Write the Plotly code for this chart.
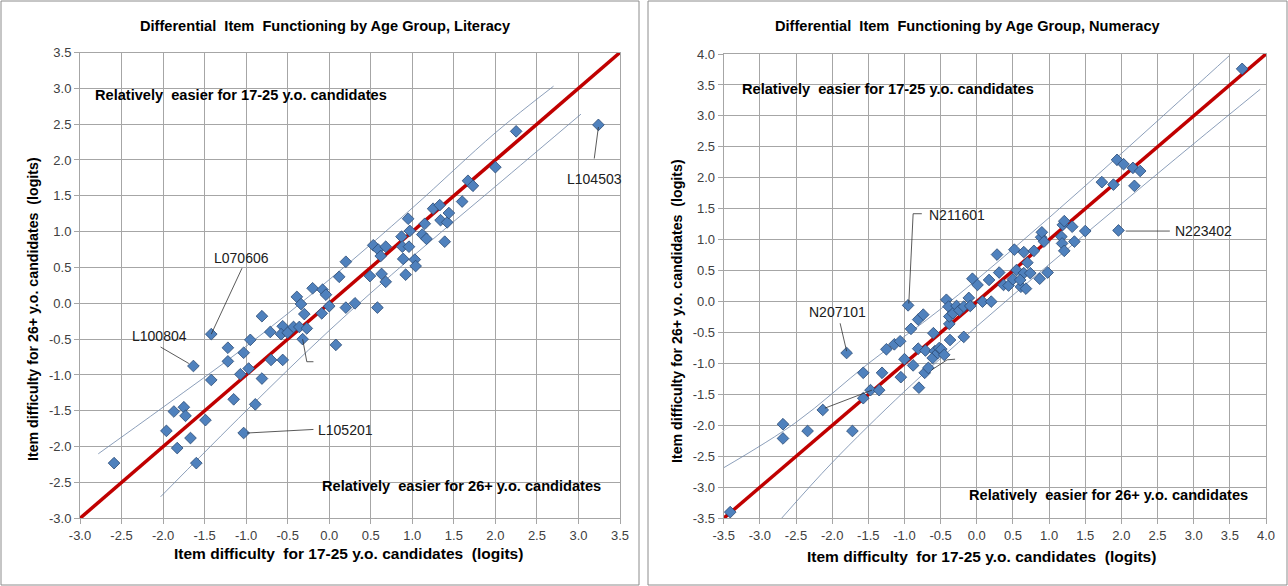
import plotly.graph_objects as go

# ---------------- Literacy: item difficulties (logits) ----------------
lit_young = [-2.59, -1.96, -1.87, -1.83, -1.75, -1.73, -1.67, -1.60, -1.49, -1.635,
             -1.42, -1.42, -1.22, -1.22, -1.15, -1.07, -1.03, -1.03, -0.97, -0.95,
             -0.89, -0.81, -0.81, -0.71, -0.70, -0.56, -0.56, -0.58, -0.50, -0.43,
             -0.39, -0.36, -0.34, -0.32, -0.30, -0.27, -0.20, -0.09, -0.08, -0.04,
             0.00, 0.08, 0.12, 0.20, 0.20, 0.31, 0.49, 0.53, 0.59, 0.62,
             0.68, 0.63, 0.68, 0.58, 0.87, 0.88, 0.96, 0.89, 1.03, 1.04,
             0.92, 0.95, 0.97, 1.12, 1.15, 1.17, 1.25, 1.33, 1.34, 1.42,
             1.44, 1.39, 1.60, 1.67, 1.73, 2.00, 2.25, 3.24]
lit_older = [-2.23, -1.78, -1.51, -2.02, -1.45, -1.57, -1.88, -2.23, -1.63, -0.875,
             -0.43, -1.07, -0.62, -0.81, -1.34, -0.99, -0.69, -1.81, -0.91, -0.51,
             -1.41, -0.18, -1.05, -0.40, -0.79, -0.32, -0.79, -0.43, -0.41, -0.33,
             0.09, -0.33, -0.01, -0.50, -0.15, -0.35, 0.21, -0.14, 0.19, 0.12,
             -0.04, -0.58, 0.37, 0.58, -0.06, 0.00, 0.38, 0.81, 0.75, 0.66,
             0.79, 0.41, 0.30, -0.06, 0.93, 0.79, 0.79, 0.62, 0.61, 0.52,
             0.40, 1.18, 1.01, 0.96, 1.11, 0.90, 1.32, 1.37, 1.16, 1.13,
             1.26, 0.86, 1.42, 1.71, 1.64, 1.90, 2.40, 2.49]

# 95% control lines around the identity line
lit_upper_x = [-2.78, -2.0, -1.0, 0.0, 1.0, 2.0, 2.70]
lit_upper_y = [-2.10, -1.45, -0.60, 0.33, 1.33, 2.38, 3.03]
lit_lower_x = [-2.03, -1.0, 0.0, 1.0, 2.0, 3.03]
lit_lower_y = [-2.70, -1.50, -0.38, 0.65, 1.63, 2.64]

# ---------------- Numeracy: item difficulties (logits) ----------------
num_young = [-3.41, -2.68, -2.68, -2.34, -2.13, -1.80, -1.72, -1.57, -1.57, -1.47,
             -1.35, -1.31, -1.25, -1.14, -1.06, -1.05, -1.00, -0.95, -0.91, -0.88,
             -0.81, -0.80, -0.81, -0.74, -0.72, -0.71, -0.67, -0.60, -0.58, -0.61,
             -0.54, -0.52, -0.49, -0.45, -0.42, -0.39, -0.38, -0.38, -0.37, -0.33,
             -0.28, -0.24, -0.18, -0.18, -0.11, -0.09, -0.06, 0.01, 0.08, 0.17,
             0.20, 0.28, 0.37, 0.44, 0.31, 0.50, 0.52, 0.55, 0.61, 0.65,
             0.65, 0.68, 0.70, 0.74, 0.79, 0.87, 0.89, 0.90, 0.93, 0.98,
             1.17, 1.18, 1.19, 1.21, 1.21, 1.32, 1.35, 1.50, 1.73, 1.89,
             1.94, 1.96, 2.03, 2.16, 2.18, 2.26, 3.67, 0.60]
num_older = [-3.40, -1.98, -2.21, -2.09, -1.75, -0.83, -2.09, -1.56, -1.15, -1.43,
             -1.43, -1.15, -0.77, -0.69, -0.64, -1.22, -0.93, -0.06, -0.44, -1.03,
             -0.29, -1.39, -0.76, -0.21, -1.15, -0.79, -1.07, -0.51, -0.80, -0.91,
             -0.83, -0.75, -0.77, -0.86, 0.03, -0.08, -0.36, -0.24, -0.62, -0.19,
             -0.07, -0.14, -0.08, -0.57, 0.06, -0.07, 0.37, 0.27, 0.00, 0.35,
             0.00, 0.76, 0.27, 0.26, 0.47, 0.36, 0.84, 0.51, 0.24, 0.80,
             0.46, 0.21, 0.63, 0.46, 0.82, 0.37, 1.04, 1.12, 0.97, 0.47,
             1.05, 0.94, 1.24, 1.30, 0.82, 1.21, 0.97, 1.14, 1.93, 1.89,
             2.29, 1.15, 2.22, 2.16, 1.87, 2.11, 3.76, 0.35]

num_upper_x = [-3.51, -2.5, -1.5, -0.5, 0.5, 1.5, 2.5, 3.49]
num_upper_y = [-2.69, -1.95, -1.00, -0.12, 0.85, 1.87, 2.92, 3.97]
num_lower_x = [-2.70, -2.0, -1.0, 0.0, 1.0, 2.0, 3.0, 3.92]
num_lower_y = [-3.50, -2.60, -1.45, -0.40, 0.60, 1.58, 2.55, 3.43]

# Axis ranges and ticks
lit_range = [-3.0, 3.5]
num_range = [-3.5, 4.0]
lit_ticks = [-3.0 + 0.5 * i for i in range(14)]
num_ticks = [-3.5 + 0.5 * i for i in range(16)]

# Labelled items: (name, label x, label y, anchor, leader path)
lit_labels = [
    ("L070606", -1.06, 0.63, "center", [(-1.05, 0.49), (-1.42, -0.43)]),
    ("L100804", -2.04, -0.46, "center", [(-2.03, -0.61), (-1.69, -0.84)]),
    ("L105201", 0.20, -1.77, "center", [(-0.99, -1.81), (-0.19, -1.76)]),
    ("L104503", 3.19, 1.73, "center", [(3.24, 2.46), (3.19, 2.02)]),
    ("", 0, 0, "center", [(-0.32, -0.50), (-0.27, -0.815), (-0.19, -0.815)]),
]
num_labels = [
    ("N211601", -0.69, 1.40, "left", [(-0.94, -0.03), (-0.88, 1.42), (-0.76, 1.42)]),
    ("N207101", -1.92, -0.16, "center", [(-1.89, -0.35), (-1.80, -0.80)]),
    ("N223402", 2.71, 1.14, "left", [(2.06, 1.14), (2.67, 1.14)]),
    ("", 0, 0, "center", [(-2.10, -1.72), (-1.45, -1.43)]),
    ("", 0, 0, "center", [(-0.62, -1.10), (-0.41, -0.94), (-0.30, -0.93)]),
]

W, H = 1288, 586
FONT = "Arial, 'Liberation Sans', sans-serif"
GRID = "#a6a6a6"
DIAMOND_FILL = "#4f81bd"
DIAMOND_EDGE = "#2b4a74"
RED = "#c00000"
BAND = "#6f87a8"

fig = go.Figure()


def add_panel(xa, ya, xs, ys, ux, uy, lx, ly, rng):
    # identity line
    fig.add_trace(go.Scatter(x=rng, y=rng, mode="lines", xaxis=xa, yaxis=ya,
                             line=dict(color=RED, width=3.5), hoverinfo="skip"))
    fig.add_trace(go.Scatter(x=ux, y=uy, mode="lines", xaxis=xa, yaxis=ya,
                             line=dict(color=BAND, width=0.8, shape="spline"),
                             hoverinfo="skip"))
    fig.add_trace(go.Scatter(x=lx, y=ly, mode="lines", xaxis=xa, yaxis=ya,
                             line=dict(color=BAND, width=0.8, shape="spline"),
                             hoverinfo="skip"))
    fig.add_trace(go.Scatter(x=xs, y=ys, mode="markers", xaxis=xa, yaxis=ya,
                             marker=dict(symbol="diamond", size=9, color=DIAMOND_FILL,
                                         line=dict(color=DIAMOND_EDGE, width=0.8))))


add_panel("x", "y", lit_young, lit_older, lit_upper_x, lit_upper_y,
          lit_lower_x, lit_lower_y, lit_range)
add_panel("x2", "y2", num_young, num_older, num_upper_x, num_upper_y,
          num_lower_x, num_lower_y, num_range)


def axis(domain, rng, ticks, anchor):
    return dict(domain=domain, range=rng, anchor=anchor, automargin=False,
                tickvals=ticks, ticktext=[f"{t:.1f}" for t in ticks],
                showgrid=True, gridcolor=GRID, gridwidth=1,
                showline=True, linecolor=GRID, linewidth=1, mirror=True,
                ticks="outside", ticklen=5, tickcolor=GRID,
                zeroline=False, tickfont=dict(family=FONT, size=13, color="#404040"))


fig.update_layout(
    width=W, height=H, margin=dict(l=0, r=0, t=0, b=0, autoexpand=False),
    paper_bgcolor="white", plot_bgcolor="white", showlegend=False,
    xaxis=axis([80 / W, 620 / W], lit_range, lit_ticks, "y"),
    yaxis=axis([1 - 518.3 / H, 1 - 52.5 / H], lit_range, lit_ticks, "x"),
    xaxis2=axis([723.7 / W, 1266 / W], num_range, num_ticks, "y2"),
    yaxis2=axis([1 - 518.3 / H, 1 - 54 / H], num_range, num_ticks, "x2"),
)

annotations = []
shapes = []


def paper_text(px, py, text, size=14.6, xanchor="center", angle=0):
    annotations.append(dict(xref="paper", yref="paper", x=px / W, y=1 - py / H,
                            xanchor=xanchor, yanchor="middle", textangle=angle,
                            text=text, showarrow=False,
                            font=dict(family=FONT, size=size, color="black")))


# panel frames
for x0, x1 in [(1, 639), (648, 1287)]:
    shapes.append(dict(type="rect", xref="paper", yref="paper",
                       x0=x0 / W, x1=x1 / W, y0=1 - 585 / H, y1=1 - 1 / H,
                       line=dict(color="#8c8c8c", width=1)))

# chart titles
paper_text(325, 26, "<b>Differential  Item  Functioning by Age Group, Literacy</b>")
paper_text(968, 26, "<b>Differential  Item  Functioning by Age Group, Numeracy</b>")

# axis titles
xt = "<b>Item difficulty  for 17-25 y.o. candidates  (logits)</b>"
yt = "<b>Item difficulty for 26+ y.o. candidates  (logits)</b>"
paper_text(348, 553, xt, size=15.5)
paper_text(981, 556, xt, size=15.5)
paper_text(33, 309, yt, size=14.2, angle=-90)
paper_text(677, 311, yt, size=14.2, angle=-90)

# region captions
paper_text(93, 95, "<b>Relatively  easier for 17-25 y.o. candidates</b>", xanchor="left")
paper_text(603, 486, "<b>Relatively  easier for 26+ y.o. candidates</b>", xanchor="right")
paper_text(740, 89, "<b>Relatively  easier for 17-25 y.o. candidates</b>", xanchor="left")
paper_text(1250, 495, "<b>Relatively  easier for 26+ y.o. candidates</b>", xanchor="right")


def add_labels(labels, xr, yr):
    for name, tx, ty, anc, path in labels:
        if name:
            annotations.append(dict(xref=xr, yref=yr, x=tx, y=ty, xanchor=anc,
                                    yanchor="middle", text=name, showarrow=False,
                                    font=dict(family=FONT, size=14, color="#202020")))
        for (x0, y0), (x1, y1) in zip(path[:-1], path[1:]):
            shapes.append(dict(type="line", xref=xr, yref=yr, x0=x0, y0=y0,
                               x1=x1, y1=y1, line=dict(color="#303030", width=0.8)))


add_labels(lit_labels, "x", "y")
add_labels(num_labels, "x2", "y2")

fig.update_layout(annotations=annotations, shapes=shapes)
fig.write_html("out.html")
